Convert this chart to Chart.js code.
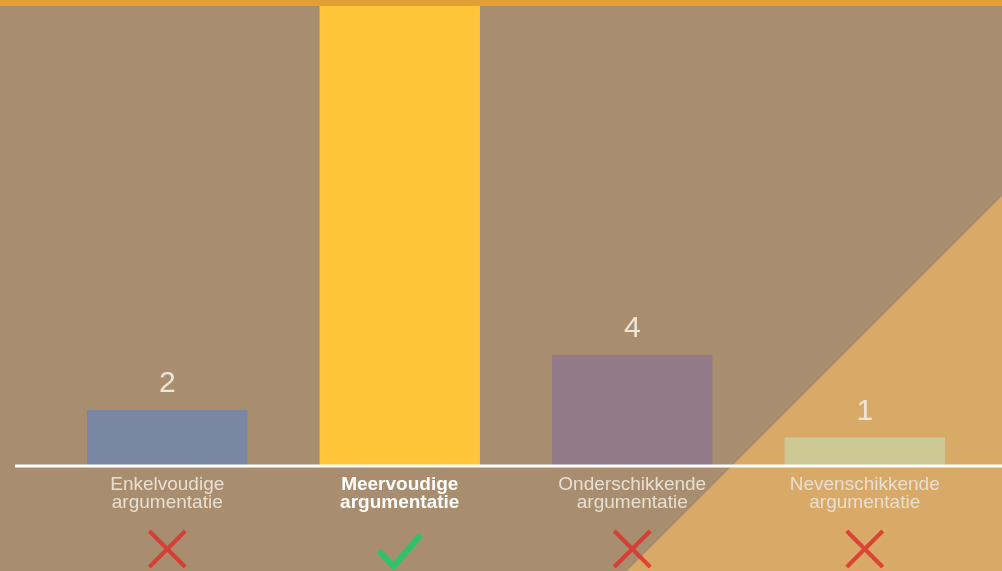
<!DOCTYPE html>
<html>
<head>
<meta charset="utf-8">
<script src="https://cdn.jsdelivr.net/npm/chart.js@4.4.1/dist/chart.umd.min.js"></script>
<style>
  html, body { margin: 0; padding: 0; background: #A88E6E; }
  #wrap { width: 1002px; height: 571px; position: relative; }
</style>
</head>
<body>
<div id="wrap"><canvas id="chart"></canvas></div>
<script>
// Data
const categories = [
    ['Enkelvoudige', 'argumentatie'],
    ['Meervoudige', 'argumentatie'],
    ['Onderschikkende', 'argumentatie'],
    ['Nevenschikkende', 'argumentatie']
];
const counts = [2, 18, 4, 1];           // the yellow bar runs off the top, value estimated
const correct = [false, true, false, false];

// Styling
const BAR_COLORS = ['#7986A4', '#FFC43A', '#937A88', '#CDC995'];
const BG = '#A88E6E';
const TRIANGLE = '#D9AA67';

// background, diagonal triangle and the orange band at the top
const backdrop = {
    id: 'backdrop',
    beforeDraw(chart) {
        const { ctx, width, height } = chart;
        ctx.save();
        ctx.fillStyle = BG;
        ctx.fillRect(0, 0, width, height);
        ctx.fillStyle = TRIANGLE;
        ctx.beginPath();
        ctx.moveTo(627, height);
        ctx.lineTo(width, 196);
        ctx.lineTo(width, height);
        ctx.closePath();
        ctx.fill();
        ctx.restore();
    },
    afterDraw(chart) {
        const { ctx, width } = chart;
        ctx.save();
        ctx.fillStyle = '#E3A034';
        ctx.fillRect(0, 0, width, 6);
        ctx.restore();
    }
};

// white baseline, value labels, cross / check marks
const marks = {
    id: 'marks',
    afterDatasetsDraw(chart) {
        const { ctx, chartArea, width } = chart;
        const meta = chart.getDatasetMeta(0);
        ctx.save();

        ctx.strokeStyle = '#FFFFFF';
        ctx.lineWidth = 3;
        ctx.beginPath();
        ctx.moveTo(15, chartArea.bottom + 1);
        ctx.lineTo(width, chartArea.bottom + 1);
        ctx.stroke();

        ctx.fillStyle = '#EFE6D8';
        ctx.font = '30px "Liberation Sans", Arial, sans-serif';
        ctx.textAlign = 'center';
        ctx.textBaseline = 'bottom';
        meta.data.forEach((el, i) => {
            if (el.y <= chartArea.top + 30) return;
            ctx.fillText(String(counts[i]), el.x, el.y - 11);
        });

        const xs = chart.scales.x;
        const cy = 549;
        correct.forEach((ok, i) => {
            const cx = xs.getPixelForValue(i);
            ctx.lineCap = 'butt';
            if (ok) {
                ctx.strokeStyle = '#2CC36B';
                ctx.lineWidth = 6;
                ctx.lineJoin = 'miter';
                ctx.beginPath();
                ctx.moveTo(cx - 21, cy + 2);
                ctx.lineTo(cx - 6, cy + 17);
                ctx.lineTo(cx + 21, cy - 14);
                ctx.stroke();
            } else {
                ctx.strokeStyle = 'rgba(220, 50, 45, 0.85)';
                ctx.lineWidth = 4;
                ctx.beginPath();
                ctx.moveTo(cx - 18, cy - 18);
                ctx.lineTo(cx + 18, cy + 18);
                ctx.moveTo(cx + 18, cy - 18);
                ctx.lineTo(cx - 18, cy + 18);
                ctx.stroke();
            }
        });
        ctx.restore();
    }
};

new Chart(document.getElementById('chart'), {
    type: 'bar',
    data: {
        labels: categories,
        datasets: [{
            data: counts,
            backgroundColor: BAR_COLORS,
            borderWidth: 0,
            barPercentage: 0.69,
            categoryPercentage: 1.0
        }]
    },
    options: {
        responsive: true,
        maintainAspectRatio: false,
        animation: false,
        devicePixelRatio: 1,
        layout: { padding: { left: 51, right: 21, top: 0, bottom: 0 } },
        plugins: {
            legend: { display: false },
            tooltip: { enabled: false }
        },
        scales: {
            y: {
                display: false,
                min: 0,
                max: 16.9
            },
            x: {
                grid: { display: false, drawTicks: false },
                border: { display: false },
                afterFit(scale) { scale.height = 106; },
                ticks: {
                    padding: 11,
                    maxRotation: 0,
                    autoSkip: false,
                    color: ctx => ctx.index === 1 ? '#FFFFFF' : '#E8DFD3',
                    font: ctx => ({
                        family: '"Liberation Sans", Arial, sans-serif',
                        size: 19,
                        weight: ctx.index === 1 ? 'bold' : 'normal',
                        lineHeight: 0.95
                    })
                }
            }
        }
    },
    plugins: [backdrop, marks]
});
</script>
</body>
</html>
